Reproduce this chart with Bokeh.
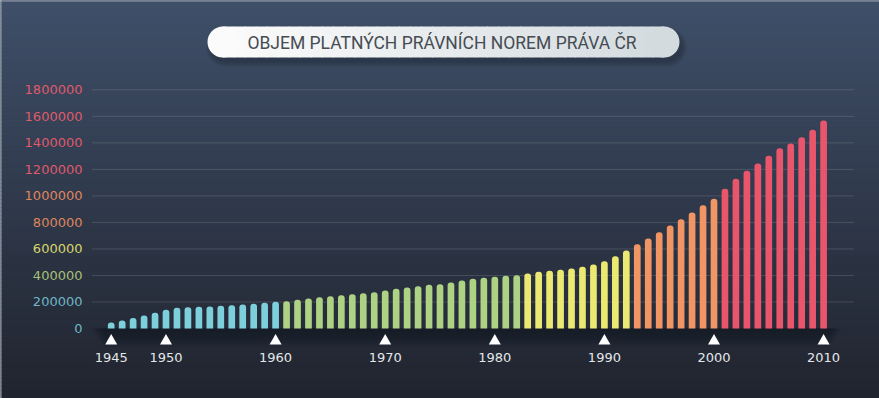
from bokeh.plotting import figure
from bokeh.models import Range1d, ColumnDataSource
from bokeh.core.properties import value
from bokeh.embed import file_html
from bokeh.resources import INLINE

# ---------------- data ----------------
years = list(range(1945, 2011))
volumes = [
    45000, 60000, 80000, 98000, 118000, 141000, 156000, 161000, 164000, 166000,
    171000, 176000, 181000, 186000, 194000, 201000, 206000, 216000, 226000, 236000,
    244000, 251000, 259000, 266000, 274000, 287000, 299000, 309000, 319000, 330000,
    334000, 347000, 362000, 375000, 382000, 390000, 397000, 402000, 415000, 428000,
    435000, 443000, 452000, 465000, 483000, 508000, 545000, 588000, 636000, 679000,
    726000, 777000, 824000, 875000, 930000, 978000, 1053000, 1129000, 1189000, 1244000,
    1302000, 1360000, 1395000, 1443000, 1498000, 1568000,
]
y_ticks = [0, 200000, 400000, 600000, 800000, 1000000, 1200000, 1400000, 1600000, 1800000]
y_tick_labels = [str(v) for v in y_ticks]
x_ticks = [1945, 1950, 1960, 1970, 1980, 1990, 2000, 2010]
x_tick_labels = [str(v) for v in x_ticks]
title_text = "OBJEM PLATNÝCH PRÁVNÍCH NOREM PRÁVA ČR"

# ---------------- style ----------------
W, H = 879, 398
PX_X0, PX_PER_YEAR = 110.7, 10.96      # pixel of 1945, pixels per year
PX_Y0, UNITS_PER_PX = 328.0, 7541.5    # pixel of value 0, units per pixel

x_start = 1945 - PX_X0 / PX_PER_YEAR
x_end = x_start + W / PX_PER_YEAR
y_end = PX_Y0 * UNITS_PER_PX
y_start = y_end - H * UNITS_PER_PX


def px2x(px):
    return x_start + px / PX_PER_YEAR


def px2y(py):
    return (PX_Y0 - py) * UNITS_PER_PX


def hex2rgb(h):
    h = h.lstrip("#")
    return tuple(int(h[i:i + 2], 16) for i in (0, 2, 4))


def mix(c1, c2, t):
    a, b = hex2rgb(c1), hex2rgb(c2)
    return "#%02x%02x%02x" % tuple(round(a[i] + (b[i] - a[i]) * t) for i in range(3))


BLUE, GREEN, YELLOW, ORANGE, RED = "#7ecfdc", "#aed283", "#ece972", "#f29565", "#e9566c"


def bar_color(y):
    if y <= 1960:
        return BLUE
    if y <= 1982:
        return GREEN
    if y <= 1992:
        return YELLOW
    if y <= 2000:
        return ORANGE
    return RED


def label_color(v):
    if v <= 200000:
        return "#6fb5c6"
    if v <= 400000:
        return "#a7bf78"
    if v <= 600000:
        return "#d7d46c"
    if v <= 1000000:
        return "#df855e"
    return "#df5a6b"


p = figure(width=W, height=H, x_range=Range1d(x_start, x_end), y_range=Range1d(y_start, y_end),
           min_border=0, toolbar_location=None, x_axis_location=None, y_axis_location=None,
           output_backend="svg")
p.grid.visible = False
p.outline_line_color = None
p.background_fill_color = "#30394b"
p.border_fill_color = "#30394b"

# background vertical gradient
N = 100
tops, bottoms, cols = [], [], []
for i in range(N):
    tops.append(px2y(i * H / N) + UNITS_PER_PX * 0.5)
    bottoms.append(px2y((i + 1) * H / N) - UNITS_PER_PX * 0.5)
    cols.append(mix("#3f4f69", "#20242e", i / (N - 1)))
p.quad(left=x_start, right=x_end, top=tops, bottom=bottoms, fill_color=cols, line_color=None)

# thin light frame edges
p.segment(x0=[px2x(0.5), px2x(0.5)], y0=[px2y(0.5), px2y(0.5)],
          x1=[px2x(W - 0.5), px2x(0.5)], y1=[px2y(0.5), px2y(H)],
          line_color="#9aa3b1", line_width=1)

# grid lines
gl_y = [v for v in y_ticks if v > 0]
p.segment(x0=px2x(92), x1=px2x(853), y0=gl_y, y1=gl_y,
          line_color="#b3bac6", line_alpha=0.42, line_width=1, line_dash="1 1")

# shelf shadow under bars
for k in range(7):
    p.quad(left=px2x(92 + k * 2), right=px2x(840 - k * 2), top=px2y(328),
           bottom=px2y(331 + k * 2.6), fill_color="#12151c", fill_alpha=0.13, line_color=None)

# bars
src = ColumnDataSource(dict(year=years, vol=volumes, color=[bar_color(y) for y in years]))
p.vbar(x="year", top="vol", bottom=0, width=0.61, source=src, fill_color="color",
       line_color=None, border_radius=(3, 3, 0, 0))

# y tick labels
p.text(x=px2x(82), y=y_ticks, text=y_tick_labels, text_align="right", text_baseline="middle",
       text_font=value("DejaVu Sans"), text_font_size="13px",
       text_color=[label_color(v) for v in y_ticks])

# x tick markers and labels
p.scatter(x=x_ticks, y=px2y(340.5), marker="triangle", size=12, fill_color="white",
          line_color=None)
p.text(x=x_ticks, y=px2y(357), text=x_tick_labels, text_align="center", text_baseline="middle",
       text_font=value("DejaVu Sans"), text_font_size="13px", text_color="#e4e7ea")

# title pill
cy, pw, ph = px2y(41.5), 472, 31
for k, a in enumerate([0.10, 0.10, 0.12]):
    hh = ph + 8 - k * 4
    p.rect(x=px2x(446), y=px2y(46.5), width=pw + 8 - k * 4, height=hh,
           width_units="screen", height_units="screen", border_radius=int(hh // 2),
           fill_color="#0c0f16", fill_alpha=a, line_color=None)
left_px, right_px = 207 + ph / 2, 679 - ph / 2
NS = 40
sx, scol = [], []
for i in range(NS):
    sx.append(px2x(left_px + (i + 0.5) * (right_px - left_px) / NS))
    scol.append(mix("#fbfbfb", "#d4dbdf", (i + 0.5) / NS))
p.rect(x=sx, y=cy, width=(right_px - left_px) / NS + 0.8, height=ph,
       width_units="screen", height_units="screen", fill_color=scol, line_color=None)
p.scatter(x=[px2x(left_px), px2x(right_px)], y=cy, size=ph, marker="circle",
          fill_color=["#fbfbfb", "#d4dbdf"], line_color=None)
p.text(x=px2x(441.5), y=px2y(42), text=[title_text], text_align="center", text_baseline="middle",
       text_font=value("Roboto"), text_font_size="17.5px", text_color="#464c53")

open("out.html", "w").write(file_html(p, INLINE))
